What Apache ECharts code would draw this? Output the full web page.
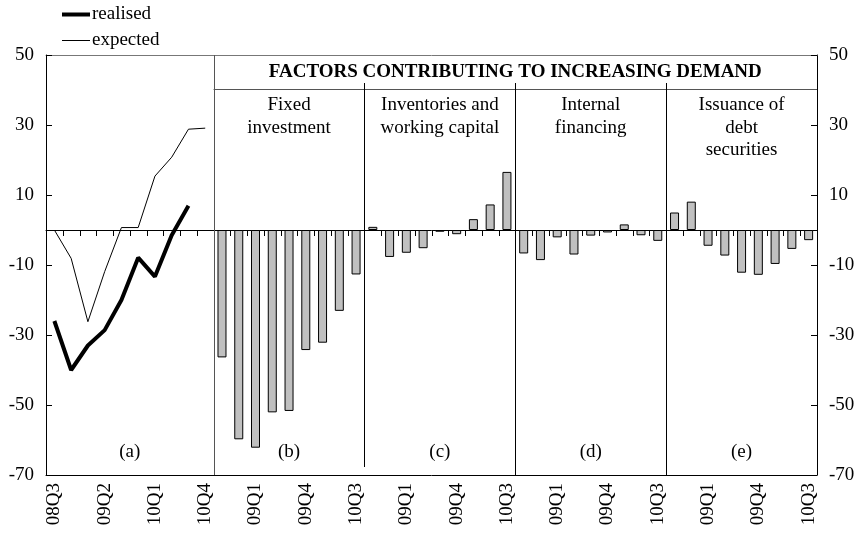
<!DOCTYPE html>
<html>
<head>
<meta charset="utf-8">
<script src="https://cdn.jsdelivr.net/npm/echarts@6/dist/echarts.min.js"></script>
<style>html,body{margin:0;padding:0;background:#fff}#c{width:858px;height:538px}</style>
</head>
<body>
<div id="c"></div>
<script>
// ---- data ----
var panelAQuarters = ['08Q3','08Q4','09Q1','09Q2','09Q3','09Q4','10Q1','10Q2','10Q3','10Q4'];
var panelQuarters = ['08Q3','08Q4','09Q1','09Q2','09Q3','09Q4','10Q1','10Q2','10Q3'];
var realised = [-26, -40, -33, -28.6, -20, -7.9, -13.3, -1.5, 6.9];
var expected = [0, -8.1, -26.2, -11.9, 0.7, 0.7, 15.4, 20.8, 28.8, 29.1];
var fixedInvestment = [-36.4, -59.8, -62.2, -52.1, -51.7, -34.3, -32.2, -23.1, -12.7];
var inventories = [0.9, -7.7, -6.5, -5.2, -0.5, -1.2, 3.1, 7.3, 16.6];
var internalFinancing = [-6.7, -8.6, -2.1, -7.0, -1.6, -0.7, 1.6, -1.5, -3.1];
var debtSecurities = [5.0, 8.1, -4.5, -7.3, -12.2, -12.8, -9.7, -5.4, -2.9];
var panelTitles = ['Fixed\ninvestment', 'Inventories and\nworking capital', 'Internal\nfinancing', 'Issuance of\ndebt\nsecurities'];
var panelLetters = ['(a)', '(b)', '(c)', '(d)', '(e)'];
var headerText = 'FACTORS CONTRIBUTING TO INCREASING DEMAND';
var yTicks = {min: -70, max: 50, interval: 20};

(function () {
// ---- build ----
var categories = panelAQuarters.concat(panelQuarters, panelQuarters, panelQuarters, panelQuarters);
var nA = panelAQuarters.length, nP = panelQuarters.length;
function padA(arr){ var o = arr.slice(); while (o.length < categories.length) o.push(null); return o; }
var barData = [];
for (var i = 0; i < nA; i++) barData.push(null);
barData = barData.concat(fixedInvestment, inventories, internalFinancing, debtSecurities);

var FONT = 'Liberation Serif, Times New Roman, serif';
var FS = 19;

var chart = echarts.init(document.getElementById('c'), null, {renderer: 'canvas'});
var yAxisBase = {
  type: 'value', min: yTicks.min, max: yTicks.max, interval: yTicks.interval,
  axisLine: {show: true, lineStyle: {color: '#000', width: 1}},
  axisTick: {show: true, inside: true, length: 6, lineStyle: {color: '#000', width: 1}},
  splitLine: {show: false},
  axisLabel: {color: '#000', fontFamily: FONT, fontSize: FS, margin: 12}
};
var option = {
  animation: false,
  backgroundColor: '#fff',
  grid: {left: 46, right: 41, top: 55, bottom: 63, containLabel: false},
  legend: {
    orient: 'vertical', left: 62, top: 5, padding: 0,
    itemWidth: 28, itemHeight: 4, itemGap: 7,
    data: [
      {name: 'realised', icon: 'path://M0,0 L28,0 L28,4 L0,4 Z'},
      {name: 'expected', icon: 'path://M0,0 L0,0 M0,1.5 L28,1.5 L28,2.5 L0,2.5 Z M0,4 L0,4'}
    ],
    textStyle: {fontFamily: FONT, fontSize: FS, color: '#000', padding: [0,0,0,-3]}
  },
  xAxis: [
    {type: 'category', data: categories, boundaryGap: true, position: 'bottom',
     axisLine: {show: true, onZero: false, lineStyle: {color: '#000'}},
     axisTick: {show: false},
     axisLabel: {interval: 2, rotate: 90, color: '#000', fontFamily: FONT, fontSize: FS, margin: 8}},
    {type: 'category', data: categories, boundaryGap: true, position: 'bottom',
     axisLine: {show: true, onZero: true, lineStyle: {color: '#000'}},
     axisTick: {show: false},
     axisLabel: {show: false}},
    {type: 'category', data: categories, boundaryGap: true, position: 'top',
     axisLine: {show: true, onZero: false, lineStyle: {color: '#777'}},
     axisTick: {show: false}, axisLabel: {show: false}}
  ],
  yAxis: [
    Object.assign({}, yAxisBase, {position: 'left'}),
    Object.assign({}, yAxisBase, {position: 'right'})
  ],
  series: [
    {name: 'realised', type: 'line', xAxisIndex: 0, yAxisIndex: 0, data: padA(realised),
     symbol: 'none', lineStyle: {color: '#000', width: 4}, itemStyle: {color: '#000'}, z: 5},
    {name: 'expected', type: 'line', xAxisIndex: 0, yAxisIndex: 0, data: padA(expected),
     symbol: 'none', lineStyle: {color: '#000', width: 1}, itemStyle: {color: '#000'}, z: 5},
    {name: 'factors', type: 'bar', xAxisIndex: 0, yAxisIndex: 0, data: barData, barWidth: 9,
     itemStyle: {color: '#c0c0c0', borderColor: '#000', borderWidth: 1}}
  ]
};
chart.setOption(option);

// ---- decorations (panel frames, zero-line ticks and texts) positioned from the axes ----
function px(i){ return chart.convertToPixel({xAxisIndex: 0}, i); }
function py(v){ return chart.convertToPixel({yAxisIndex: 0}, v); }
var slot = px(1) - px(0);
function boundary(k){ return px(k) - slot / 2; }
var yTop = py(yTicks.max), yBottom = py(yTicks.min), yZero = py(0);
var leftEdge = boundary(0), rightEdge = boundary(categories.length - 1) + slot;
var bounds = [leftEdge, boundary(nA), boundary(nA + nP), boundary(nA + 2*nP), boundary(nA + 3*nP), rightEdge];
var headerY = yTop + 34;
var els = [];
function vline(x, y1, y2, color, w){
  var xx = Math.round(x) + 0.5;
  els.push({type: 'line', shape: {x1: xx, y1: y1, x2: xx, y2: y2},
            style: {stroke: color || '#000', lineWidth: w || 1}, z: 10});
}
// category-boundary ticks hanging below the zero line
var z0 = Math.round(yZero);
for (var k = 1; k < categories.length; k++) {
  vline(leftEdge + k * slot, z0, z0 + 6, '#000', 1);
}
vline(bounds[1], yTop, yBottom, '#555');
els.push({type: 'line', shape: {x1: bounds[1], y1: Math.round(headerY)+0.5, x2: rightEdge, y2: Math.round(headerY)+0.5},
          style: {stroke: '#555', lineWidth: 1}, z: 10});
vline(bounds[2], headerY - 6, yBottom - 8);
vline(bounds[3], headerY - 6, yBottom);
vline(bounds[4], headerY - 6, yBottom);
els.push({type: 'text', x: (bounds[1] + rightEdge) / 2, y: yTop + 17,
          style: {text: headerText, font: 'bold ' + FS + 'px ' + FONT, fill: '#000', align: 'center', verticalAlign: 'middle'}, z: 10});
for (var p = 0; p < 4; p++) {
  els.push({type: 'text', x: (bounds[p+1] + bounds[p+2]) / 2, y: headerY + 5,
            style: {text: panelTitles[p], font: FS + 'px ' + FONT, fill: '#000', align: 'center', verticalAlign: 'top', lineHeight: 22.5}, z: 10});
}
for (var q = 0; q < 5; q++) {
  els.push({type: 'text', x: (bounds[q] + bounds[q+1]) / 2, y: yBottom - 23,
            style: {text: panelLetters[q], font: FS + 'px ' + FONT, fill: '#000', align: 'center', verticalAlign: 'middle'}, z: 10});
}
chart.setOption({graphic: {elements: els}});
})();
</script>
</body>
</html>
